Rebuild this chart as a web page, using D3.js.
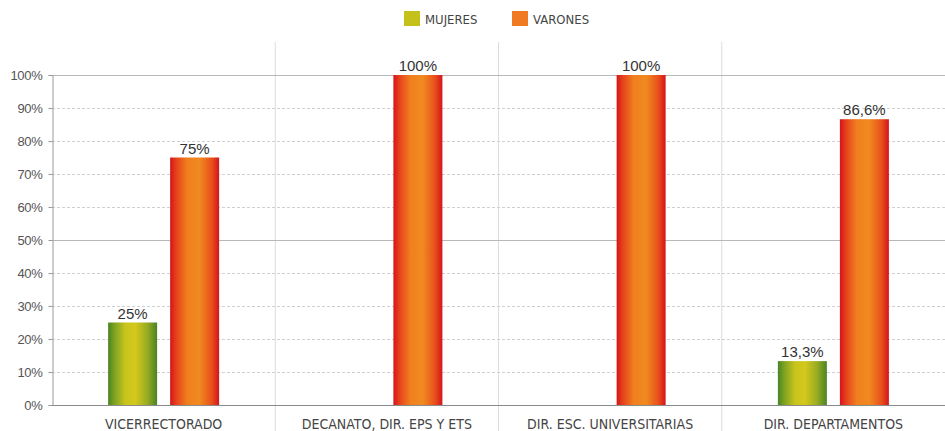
<!DOCTYPE html>
<html><head><meta charset="utf-8">
<script src="https://cdn.jsdelivr.net/npm/d3@7"></script>
<style>
html,body{margin:0;padding:0;background:#fff;}
svg{display:block;}
</style></head>
<body>
<svg id="chart" width="945" height="431"></svg>
<script>
const categories = ["VICERRECTORADO", "DECANATO, DIR. EPS Y ETS", "DIR. ESC. UNIVERSITARIAS", "DIR. DEPARTAMENTOS"];
const seriesNames = ["MUJERES", "VARONES"];
const mujeres = [25, 0, 0, 13.3];
const varones = [75, 100, 100, 86.6];
const mujeresLabels = ["25%", "", "", "13,3%"];
const varonesLabels = ["75%", "100%", "100%", "86,6%"];
const yTicks = [0, 10, 20, 30, 40, 50, 60, 70, 80, 90, 100];

const svg = d3.select("#chart");
const W = 945, H = 431;
const m = {left: 52, right: 0, top: 75, bottom: 26};

const defs = svg.append("defs");
function grad(id, stops) {
  const g = defs.append("linearGradient").attr("id", id).attr("x1", "0%").attr("x2", "100%").attr("y1", "0%").attr("y2", "0%");
  stops.forEach(([o, c]) => g.append("stop").attr("offset", o).attr("stop-color", c));
}
grad("gM", [["0%", "#4a8424"], ["12%", "#7aa022"], ["35%", "#c8c41c"], ["55%", "#d4c81c"], ["80%", "#98ac22"], ["100%", "#4a8424"]]);
grad("gV", [["0%", "#d4141c"], ["12%", "#e6401c"], ["35%", "#f0801e"], ["60%", "#f08a20"], ["85%", "#e8501c"], ["100%", "#d4141c"]]);

const x = d3.scaleBand().domain(categories).range([m.left, W - m.right]).paddingInner(0).paddingOuter(0);
const y = d3.scaleLinear().domain([0, 100]).range([H - m.bottom, m.top]);
const bw = x.bandwidth();
const xs = d3.scaleBand().domain(seriesNames).range([bw / 2 - 55.5, bw / 2 + 55.5]).paddingInner(0.21);

// vertical separators
svg.append("g").selectAll("line").data(categories.slice(1)).join("line")
  .attr("x1", d => x(d)).attr("x2", d => x(d))
  .attr("y1", 42).attr("y2", H)
  .attr("stroke", "#dcdcdc").attr("stroke-width", 1);

// horizontal grid
svg.append("g").selectAll("line").data(yTicks.filter(t => t > 0)).join("line")
  .attr("x1", m.left).attr("x2", W)
  .attr("y1", d => y(d) + 0.5).attr("y2", d => y(d) + 0.5)
  .attr("stroke", d => (d === 50 || d === 100) ? "#b8b8b8" : "#d0d0d0")
  .attr("stroke-width", 1)
  .attr("stroke-dasharray", d => (d === 50 || d === 100) ? null : "3,2");

// y axis
const yAxis = d3.axisLeft(y).tickValues(yTicks).tickFormat(d => d + "%").tickSize(4).tickPadding(6);
const ya = svg.append("g").attr("transform", `translate(${m.left + 0.5},0)`).call(yAxis);
ya.select(".domain").attr("stroke", "#9a9a9a");
ya.selectAll(".tick line").attr("stroke", "#9a9a9a");
ya.selectAll(".tick text").attr("fill", "#555").attr("font-size", 13)
  .attr("font-family", "'Liberation Sans', Arial, sans-serif").attr("letter-spacing", "-0.3px");

// x baseline
svg.append("line").attr("x1", m.left).attr("x2", W).attr("y1", y(0) + 0.5).attr("y2", y(0) + 0.5)
  .attr("stroke", "#8a8a8a").attr("stroke-width", 1);

// x labels
svg.append("g").selectAll("text").data(categories).join("text")
  .attr("x", d => x(d) + bw / 2).attr("y", 429)
  .attr("text-anchor", "middle").attr("fill", "#444")
  .attr("font-size", 14).attr("font-family", "'DejaVu Sans Condensed', 'Liberation Sans Narrow', sans-serif")
  .attr("font-weight", 300)
  .text(d => d);

// bars
const data = [];
categories.forEach((c, i) => {
  data.push({c, s: "MUJERES", v: mujeres[i], label: mujeresLabels[i]});
  data.push({c, s: "VARONES", v: varones[i], label: varonesLabels[i]});
});
const bars = data.filter(d => d.v > 0);
svg.append("g").selectAll("rect").data(bars).join("rect")
  .attr("x", d => x(d.c) + xs(d.s))
  .attr("width", xs.bandwidth())
  .attr("y", d => y(d.v))
  .attr("height", d => y(0) - y(d.v))
  .attr("fill", d => d.s === "MUJERES" ? "url(#gM)" : "url(#gV)");

svg.append("g").selectAll("text").data(bars).join("text")
  .attr("x", d => x(d.c) + xs(d.s) + xs.bandwidth() / 2)
  .attr("y", d => y(d.v) - 4)
  .attr("text-anchor", "middle").attr("fill", "#333")
  .attr("font-size", 15).attr("font-family", "'Liberation Sans', Arial, sans-serif")
  .text(d => d.label);

// legend
const legColors = {"MUJERES": "#c4c21a", "VARONES": "#f07a22"};
const legX = [404, 512];
const lg = svg.append("g");
seriesNames.forEach((s, i) => {
  lg.append("rect").attr("x", legX[i]).attr("y", 11).attr("width", 16).attr("height", 15).attr("fill", legColors[s]);
  lg.append("text").attr("x", legX[i] + 21).attr("y", 24).attr("fill", "#444")
    .attr("font-size", 13).attr("font-family", "'DejaVu Sans Condensed', 'Liberation Sans Narrow', sans-serif")
    .attr("font-weight", 300).text(s);
});
</script>
</body></html>
